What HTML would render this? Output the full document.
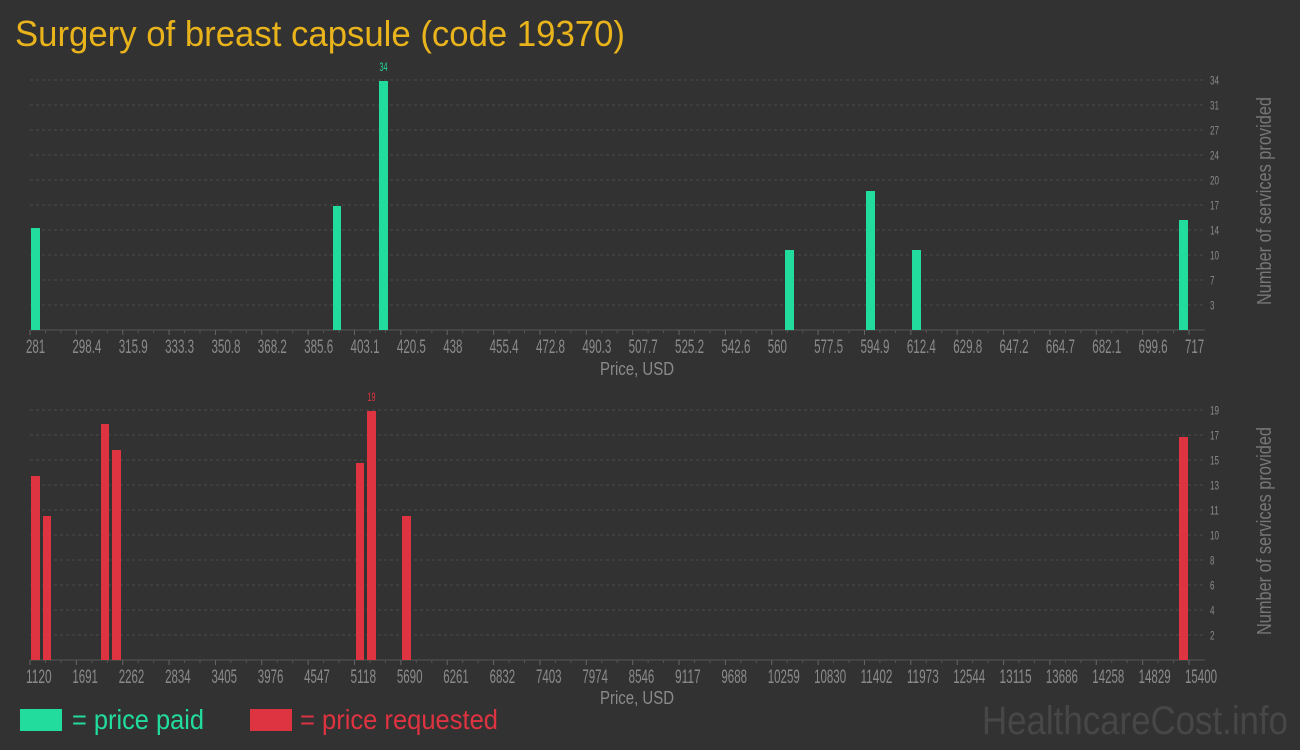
<!DOCTYPE html>
<html><head><meta charset="utf-8"><style>
html,body{margin:0;padding:0;background:#323232;}
svg{display:block;font-family:"Liberation Sans",sans-serif;}
</style></head><body>
<svg id="s" width="1300" height="750" xmlns="http://www.w3.org/2000/svg">
<rect width="1300" height="750" fill="#323232"/>
<text x="15" y="46" font-size="36" fill="#e9b31c" textLength="610" lengthAdjust="spacingAndGlyphs">Surgery of breast capsule (code 19370)</text>
<g id="top"></g><g id="bot"></g>
<text x="600" y="375" font-size="18" fill="#8a8a8a" textLength="74" lengthAdjust="spacingAndGlyphs">Price, USD</text>
<text x="600" y="704" font-size="18" fill="#8a8a8a" textLength="74" lengthAdjust="spacingAndGlyphs">Price, USD</text>
<text transform="translate(1271,305) rotate(-90)" font-size="20" fill="#777" textLength="208" lengthAdjust="spacingAndGlyphs">Number of services provided</text>
<text transform="translate(1271,635) rotate(-90)" font-size="20" fill="#777" textLength="208" lengthAdjust="spacingAndGlyphs">Number of services provided</text>
<rect x="20" y="709" width="42" height="22" fill="#21dc9d"/>
<text x="72" y="729" font-size="28" fill="#21dc9d" textLength="132" lengthAdjust="spacingAndGlyphs">= price paid</text>
<rect x="250" y="709" width="42" height="22" fill="#de3341"/>
<text x="300" y="729" font-size="28" fill="#de3341" textLength="198" lengthAdjust="spacingAndGlyphs">= price requested</text>
<text x="982" y="734" font-size="40" fill="#474747" textLength="306" lengthAdjust="spacingAndGlyphs">HealthcareCost.info</text>
</svg>
<script>
var NS="http://www.w3.org/2000/svg";
function el(p,n,a,t){var e=document.createElementNS(NS,n);for(var k in a)e.setAttribute(k,a[k]);if(t!==undefined)e.textContent=t;p.appendChild(e);return e;}
function chart(g,base,ylabels,xlabels,bars,color,peak){
  for(var i=0;i<10;i++){var y=base-250+25*i;
    el(g,"line",{x1:30,x2:1205,y1:y,y2:y,stroke:"#4a4a4a","stroke-dasharray":"3,3"});
    el(g,"text",{x:1210,y:y+4.5,"font-size":12,fill:"#8a8a8a",textLength:ylabels[i].length*4.5,lengthAdjust:"spacingAndGlyphs"},ylabels[i]);}
  el(g,"line",{x1:30,x2:1205,y1:base,y2:base,stroke:"#555"});
  for(var i=0;i<26;i++){var x=30+i*46.36;
    el(g,"line",{x1:x,x2:x,y1:base,y2:base+5,stroke:"#666"});
    for(var j=1;j<3&&i<25;j++){var m=x+j*46.36/3;el(g,"line",{x1:m,x2:m,y1:base,y2:base+3,stroke:"#555"});}
    var s=xlabels[i],w=s.length*6.4-(s.indexOf('.')>=0?3:0);
    el(g,"text",{x:x-4,y:base+23,"font-size":19,fill:"#8a8a8a",textLength:w,lengthAdjust:"spacingAndGlyphs"},s);}
  bars.forEach(function(b){el(g,"rect",{x:b[0],y:b[1],width:b[2]-b[0],height:base-b[1],fill:color});});
  el(g,"text",{x:peak[0]-4,y:peak[1],"font-size":12,fill:color,textLength:8,lengthAdjust:"spacingAndGlyphs"},peak[2]);
}
chart(document.getElementById("top"),330,["34","31","27","24","20","17","14","10","7","3"],
 ["281","298.4","315.9","333.3","350.8","368.2","385.6","403.1","420.5","438","455.4","472.8","490.3","507.7","525.2","542.6","560","577.5","594.9","612.4","629.8","647.2","664.7","682.1","699.6","717"],
 [[31,228,40],[333,206,341],[379,81,388],[785,250,794],[866,191,875],[912,250,921],[1179,220,1188]],"#21dc9d",[383.5,71,"34"]);
chart(document.getElementById("bot"),660,["19","17","15","13","11","10","8","6","4","2"],
 ["1120","1691","2262","2834","3405","3976","4547","5118","5690","6261","6832","7403","7974","8546","9117","9688","10259","10830","11402","11973","12544","13115","13686","14258","14829","15400"],
 [[31,476,40],[43,516,51],[101,424,109],[112,450,121],[356,463,364],[367,411,376],[402,516,411],[1179,437,1188]],"#de3341",[371.5,401,"19"]);
</script>
</body></html>
